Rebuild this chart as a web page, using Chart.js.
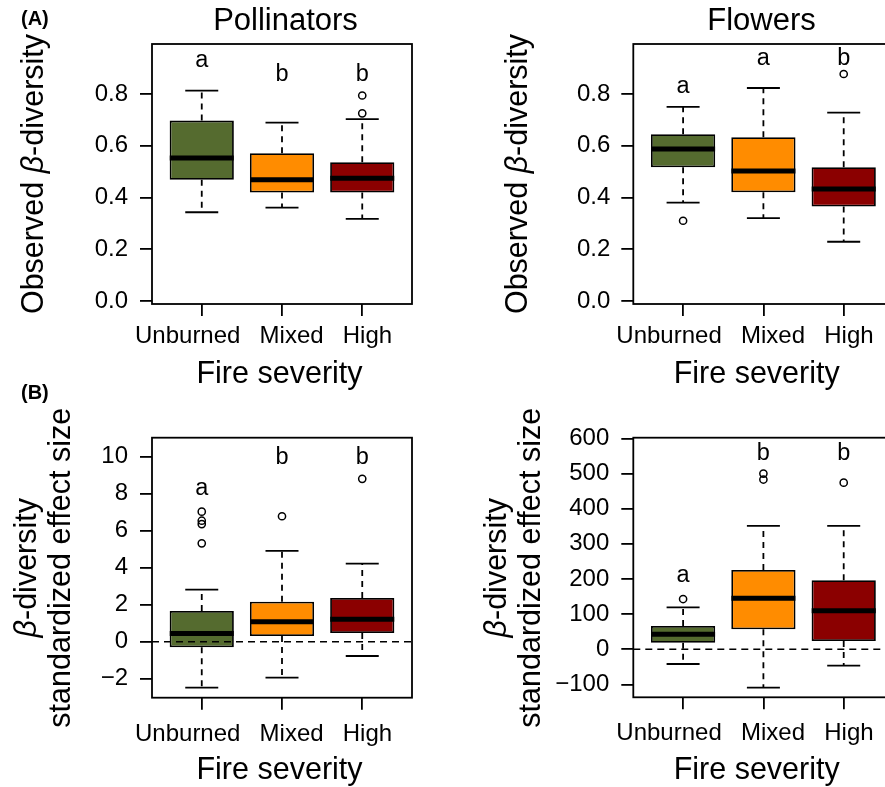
<!DOCTYPE html>
<html><head><meta charset="utf-8">
<script src="https://cdn.jsdelivr.net/npm/chart.js@4.4.0/dist/chart.umd.min.js"></script>
<style>
html,body{margin:0;padding:0;background:#fff;overflow:hidden;width:885px;height:787px;}
canvas{position:absolute;}
</style></head><body>
<canvas id="c1" width="442" height="400" style="left:0;top:0;width:442px;height:400px"></canvas>
<canvas id="c2" width="470" height="400" style="left:442px;top:0;width:470px;height:400px"></canvas>
<canvas id="c3" width="442" height="412" style="left:0;top:375px;width:442px;height:412px"></canvas>
<canvas id="c4" width="470" height="412" style="left:442px;top:375px;width:470px;height:412px"></canvas>
<script>
// ---------- data ----------
const categories = ['Unburned', 'Mixed', 'High'];

// (A) Observed beta-diversity, Pollinators
const polObsLow  = [0.343, 0.361, 0.317];
const polObsQ1   = [0.468, 0.419, 0.419];
const polObsMed  = [0.553, 0.468, 0.474];
const polObsQ3   = [0.697, 0.571, 0.536];
const polObsHigh = [0.813, 0.689, 0.703];
const polObsOut  = [[], [], [0.794, 0.725]];
const polObsLetters = ['a', 'b', 'b'];
const polObsLetterY = [0.930, 0.875, 0.875];

// (A) Observed beta-diversity, Flowers
const flwObsLow  = [0.380, 0.320, 0.229];
const flwObsQ1   = [0.517, 0.420, 0.365];
const flwObsMed  = [0.587, 0.502, 0.433];
const flwObsQ3   = [0.644, 0.633, 0.517];
const flwObsHigh = [0.750, 0.823, 0.728];
const flwObsOut  = [[0.310], [], [0.877]];
const flwObsLetters = ['a', 'a', 'b'];
const flwObsLetterY = [0.830, 0.936, 0.936];

// (B) beta-diversity standardized effect size, Pollinators
const polSesLow  = [-2.48, -1.94, -0.77];
const polSesQ1   = [-0.30, 0.31, 0.47];
const polSesMed  = [0.45, 1.08, 1.21];
const polSesQ3   = [1.66, 2.16, 2.36];
const polSesHigh = [2.81, 4.90, 4.21];
const polSesOut  = [[7.02, 6.53, 6.35, 5.31], [6.77], [8.79]];
const polSesLetters = ['a', 'b', 'b'];
const polSesLetterY = [8.26, 9.92, 9.92];

// (B) beta-diversity standardized effect size, Flowers
const flwSesLow  = [-41.8, -109.3, -46.7];
const flwSesQ1   = [18.8, 56.9, 23.6];
const flwSesMed  = [42.7, 145.1, 109.8];
const flwSesQ3   = [66.3, 225.7, 196.4];
const flwSesHigh = [119.5, 350.9, 350.9];
const flwSesOut  = [[143], [500, 483], [474]];
const flwSesLetters = ['a', 'b', 'b'];
const flwSesLetterY = [211, 556, 556];

// tick values
const obsTicks    = [0, 0.2, 0.4, 0.6, 0.8];
const polSesTicks = [-2, 0, 2, 4, 6, 8, 10];
const flwSesTicks = [-100, 0, 100, 200, 300, 400, 500, 600];

// ---------- styles / layout ----------
const FONT = '"Liberation Sans", Arial, Helvetica, sans-serif';
const fillColors = ['#556B2F', '#FF8C00', '#8B0000'];
const X_MIN = 0.38, X_MAX = 3.62;
const LABEL_ANCHORS = [0.825, 2.12, 3.065];   // where the category names sit along the x axis
Chart.defaults.font.family = FONT;
Chart.defaults.color = '#000';

const decorPlugin = {
  id: 'decor',
  afterDraw(chart, args, o) {
    const ctx = chart.ctx;
    const ca = chart.chartArea;
    ctx.save();
    ctx.strokeStyle = '#000';
    ctx.lineWidth = 1.8;
    ctx.strokeRect(ca.left, ca.top, ca.right - ca.left, ca.bottom - ca.top);
    ctx.fillStyle = '#000';
    if (o.title) {
      ctx.font = `31px ${FONT}`;
      ctx.textAlign = 'center'; ctx.textBaseline = 'alphabetic';
      ctx.fillText(o.title.text, o.title.x, o.title.y);
    }
    if (o.panel) {
      ctx.font = `bold 20px ${FONT}`;
      ctx.textAlign = 'left'; ctx.textBaseline = 'alphabetic';
      ctx.fillText(o.panel.text, o.panel.x, o.panel.y);
    }
    ctx.font = `30.5px ${FONT}`;
    ctx.textAlign = 'center'; ctx.textBaseline = 'alphabetic';
    ctx.fillText(o.xTitle.text, o.xTitle.x, o.xTitle.y);
    o.yTitle.lines.forEach((parts, li) => {
      ctx.save();
      ctx.translate(o.yTitle.xs[li], o.yTitle.y);
      ctx.rotate(-Math.PI / 2);
      ctx.textAlign = 'left'; ctx.textBaseline = 'alphabetic';
      let total = 0;
      const widths = parts.map(p => {
        ctx.font = `${p.italic ? 'italic ' : ''}30.5px ${FONT}`;
        const w = ctx.measureText(p.t).width; total += w; return w;
      });
      let cx = -total / 2;
      parts.forEach((p, i) => {
        ctx.font = `${p.italic ? 'italic ' : ''}30.5px ${FONT}`;
        ctx.fillText(p.t, cx, 0);
        cx += widths[i];
      });
      ctx.restore();
    });
    const xs = chart.scales.x, ys = chart.scales.y;
    ctx.font = `23.5px ${FONT}`;
    ctx.textAlign = 'center'; ctx.textBaseline = 'middle';
    o.letters.forEach((l, i) => {
      ctx.fillText(l, xs.getPixelForValue(i + 1), ys.getPixelForValue(o.letterY[i]));
    });
    ctx.restore();
  }
};

function makePanel(p) {
  const datasets = [];
  datasets.push({
    type: 'bar',
    data: categories.map((c, i) => ({ x: i + 1, y: [p.q1[i], p.q3[i]] })),
    backgroundColor: fillColors, borderColor: '#000', borderWidth: 1.8,
    borderSkipped: false, categoryPercentage: 0.8, barPercentage: 1.0, order: 5
  });
  const wh = [];
  categories.forEach((c, i) => {
    wh.push({ x: i + 1, y: p.q3[i] }, { x: i + 1, y: p.high[i] }, { x: i + 1, y: null },
            { x: i + 1, y: p.q1[i] }, { x: i + 1, y: p.low[i] }, { x: i + 1, y: null });
  });
  datasets.push({
    type: 'line', data: wh, borderColor: '#000', borderWidth: 1.8, borderDash: [6, 5],
    pointRadius: 0, spanGaps: false, fill: false, order: 6
  });
  datasets.push({
    type: 'line', showLine: false,
    data: p.med.map((v, i) => ({ x: i + 1, y: v })),
    pointStyle: 'line', pointRadius: 32, pointBorderWidth: 5, pointBorderColor: '#000', order: 3
  });
  datasets.push({
    type: 'line', showLine: false,
    data: p.high.map((v, i) => ({ x: i + 1, y: v })).concat(p.low.map((v, i) => ({ x: i + 1, y: v }))),
    pointStyle: 'line', pointRadius: 16.5, pointBorderWidth: 1.8, pointBorderColor: '#000', order: 2
  });
  const outs = [];
  p.out.forEach((arr, i) => arr.forEach(v => outs.push({ x: i + 1, y: v })));
  datasets.push({
    type: 'line', showLine: false, data: outs,
    pointStyle: 'circle', pointRadius: 3.6, pointBorderWidth: 1.5,
    pointBorderColor: '#000', pointBackgroundColor: 'rgba(0,0,0,0)', order: 1
  });
  if (p.zero) {
    datasets.push({
      type: 'line', data: [{ x: X_MIN, y: 0 }, { x: X_MAX, y: 0 }],
      borderColor: '#000', borderWidth: 1.6, borderDash: [7, 5], pointRadius: 0, order: 0
    });
  }
  new Chart(document.getElementById(p.id), {
    type: 'bar',
    data: { datasets },
    options: {
      responsive: false, animation: false, events: [],
      layout: { autoPadding: false, padding: { left: 0, right: p.padRight, top: p.padTop, bottom: 0 } },
      plugins: { legend: { display: false }, tooltip: { enabled: false }, decor: p.decor },
      scales: {
        x: {
          type: 'linear', min: X_MIN, max: X_MAX, offset: false, weight: 0,
          afterBuildTicks: s => { s.ticks = categories.map((c, i) => ({ value: i + 1 })); },
          afterFit: s => { s.height = 12; s.paddingLeft = 0; s.paddingRight = 0; },
          ticks: { display: false },
          grid: { offset: false, drawOnChartArea: false, drawTicks: true, tickLength: 12, color: '#000', lineWidth: 1.8 },
          border: { display: false }
        },
        xLab: {
          type: 'linear', position: 'bottom', min: X_MIN, max: X_MAX, offset: false, weight: 1,
          afterBuildTicks: s => { s.ticks = LABEL_ANCHORS.map(v => ({ value: v })); },
          afterFit: s => { s.height = p.xHeight - 12; s.paddingLeft = 0; s.paddingRight = 0; },
          ticks: { callback: (v, i) => categories[i], font: { size: 24 }, color: '#000',
                   padding: p.xPad, maxRotation: 0, minRotation: 0, autoSkip: false },
          grid: { display: false, drawTicks: false, drawOnChartArea: false },
          border: { display: false }
        },
        y: {
          type: 'linear', min: p.yMin, max: p.yMax,
          afterBuildTicks: s => { s.ticks = p.ticks.map(v => ({ value: v })); },
          afterFit: s => { s.width = p.yWidth; s.paddingTop = 0; s.paddingBottom = 0; },
          ticks: { callback: p.fmt, font: { size: 24 }, color: '#000', padding: p.yPad, autoSkip: false },
          grid: { drawOnChartArea: false, drawTicks: true, tickLength: 12, color: '#000', lineWidth: 1.8 },
          border: { display: false }
        }
      }
    },
    plugins: [decorPlugin]
  });
}

const fmt1 = v => v.toFixed(1);
const fmtInt = v => String(v).replace('-', '\u2212');
const obsTitle = [[{ t: 'Observed ' }, { t: '\u03B2', italic: true }, { t: '-diversity' }]];
const sesTitle = [[{ t: '\u03B2', italic: true }, { t: '-diversity' }], [{ t: 'standardized effect size' }]];

makePanel({
  id: 'c1', low: polObsLow, q1: polObsQ1, med: polObsMed, q3: polObsQ3, high: polObsHigh, out: polObsOut,
  ticks: obsTicks, yMin: -0.0116, yMax: 0.993, fmt: fmt1, zero: false,
  yWidth: 152, padRight: 30, padTop: 44, xHeight: 96, xPad: 6, yPad: 12,
  decor: {
    letters: polObsLetters, letterY: polObsLetterY,
    title: { text: 'Pollinators', x: 285.5, y: 30 },
    panel: { text: '(A)', x: 21, y: 25 },
    xTitle: { text: 'Fire severity', x: 279.5, y: 383.3 },
    yTitle: { lines: obsTitle, xs: [43.3], y: 174 }
  }
});
makePanel({
  id: 'c2', low: flwObsLow, q1: flwObsQ1, med: flwObsMed, q3: flwObsQ3, high: flwObsHigh, out: flwObsOut,
  ticks: obsTicks, yMin: -0.0116, yMax: 0.993, fmt: fmt1, zero: false,
  yWidth: 191.3, padRight: 18.5, padTop: 44, xHeight: 96, xPad: 6, yPad: 11,
  decor: {
    letters: flwObsLetters, letterY: flwObsLetterY,
    title: { text: 'Flowers', x: 319.5, y: 30 },
    xTitle: { text: 'Fire severity', x: 314.7, y: 383.3 },
    yTitle: { lines: obsTitle, xs: [85.3], y: 174 }
  }
});
makePanel({
  id: 'c3', low: polSesLow, q1: polSesQ1, med: polSesMed, q3: polSesQ3, high: polSesHigh, out: polSesOut,
  ticks: polSesTicks, yMin: -3.02, yMax: 11.01, fmt: fmtInt, zero: true,
  yWidth: 152, padRight: 30, padTop: 62.7, xHeight: 89.3, xPad: 9.8, yPad: 12,
  decor: {
    letters: polSesLetters, letterY: polSesLetterY,
    panel: { text: '(B)', x: 21, y: 24 },
    xTitle: { text: 'Fire severity', x: 279.5, y: 404 },
    yTitle: { lines: sesTitle, xs: [36, 70], y: 192.7 }
  }
});
makePanel({
  id: 'c4', low: flwSesLow, q1: flwSesQ1, med: flwSesMed, q3: flwSesQ3, high: flwSesHigh, out: flwSesOut,
  ticks: flwSesTicks, yMin: -136.6, yMax: 602, fmt: fmtInt, zero: true,
  yWidth: 191.3, padRight: 18.5, padTop: 62.7, xHeight: 89.7, xPad: 9.8, yPad: 12,
  decor: {
    letters: flwSesLetters, letterY: flwSesLetterY,
    xTitle: { text: 'Fire severity', x: 314.7, y: 404 },
    yTitle: { lines: sesTitle, xs: [64, 98], y: 192.7 }
  }
});
</script>
</body></html>
